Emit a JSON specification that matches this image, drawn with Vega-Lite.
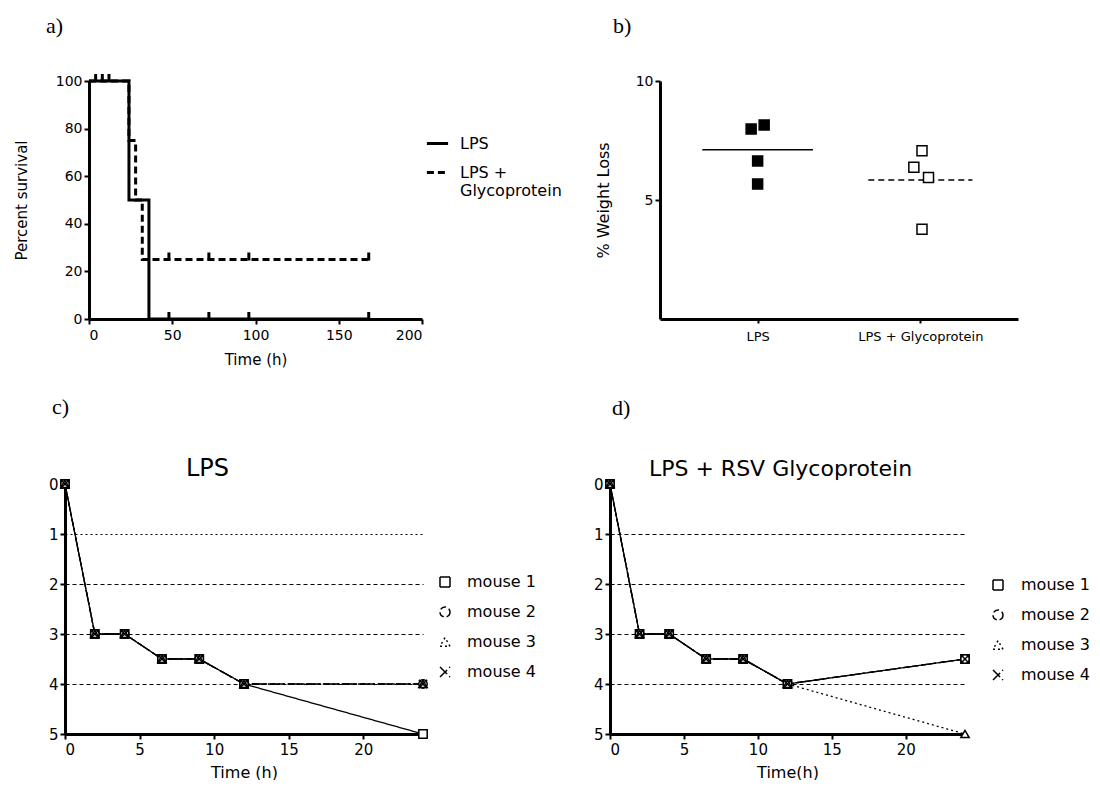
{
  "$schema": "https://vega.github.io/schema/vega-lite/v6.json",
  "padding": {"left": 9, "top": 15, "right": 0, "bottom": 0},
  "background": "white",
  "datasets": {
    "survival": [
      {"group": "LPS", "t": 0, "pct": 100},
      {"group": "LPS", "t": 24, "pct": 50},
      {"group": "LPS", "t": 36, "pct": 0},
      {"group": "LPS", "t": 168, "pct": 0},
      {"group": "LPS + Glycoprotein", "t": 0, "pct": 100},
      {"group": "LPS + Glycoprotein", "t": 24, "pct": 75},
      {"group": "LPS + Glycoprotein", "t": 28, "pct": 50},
      {"group": "LPS + Glycoprotein", "t": 32, "pct": 25},
      {"group": "LPS + Glycoprotein", "t": 168, "pct": 25}
    ],
    "censored": [
      {"group": "LPS", "t": 4, "pct": 100},
      {"group": "LPS", "t": 8, "pct": 100},
      {"group": "LPS", "t": 12, "pct": 100},
      {"group": "LPS", "t": 48, "pct": 0},
      {"group": "LPS", "t": 72, "pct": 0},
      {"group": "LPS", "t": 96, "pct": 0},
      {"group": "LPS", "t": 168, "pct": 0},
      {"group": "LPS + Glycoprotein", "t": 48, "pct": 25},
      {"group": "LPS + Glycoprotein", "t": 72, "pct": 25},
      {"group": "LPS + Glycoprotein", "t": 96, "pct": 25},
      {"group": "LPS + Glycoprotein", "t": 168, "pct": 25}
    ],
    "weight": [
      {"group": "LPS", "xpos": 0.96, "loss": 7.98},
      {"group": "LPS", "xpos": 1.04, "loss": 8.15},
      {"group": "LPS", "xpos": 1.0, "loss": 6.64},
      {"group": "LPS", "xpos": 1.0, "loss": 5.67},
      {"group": "LPS + Glycoprotein", "xpos": 2.01, "loss": 7.07},
      {"group": "LPS + Glycoprotein", "xpos": 1.96, "loss": 6.38},
      {"group": "LPS + Glycoprotein", "xpos": 2.05, "loss": 5.95},
      {"group": "LPS + Glycoprotein", "xpos": 2.01, "loss": 3.77}
    ],
    "means": [
      {"group": "LPS", "from": 0.66, "to": 1.34, "mean": 7.11},
      {"group": "LPS + Glycoprotein", "from": 1.68, "to": 2.32, "mean": 5.84}
    ],
    "scoreC": [
      {"mouse": "mouse 1", "t": 0, "score": 0}, {"mouse": "mouse 1", "t": 2, "score": 3}, {"mouse": "mouse 1", "t": 4, "score": 3}, {"mouse": "mouse 1", "t": 6.5, "score": 3.5}, {"mouse": "mouse 1", "t": 9, "score": 3.5}, {"mouse": "mouse 1", "t": 12, "score": 4}, {"mouse": "mouse 1", "t": 24, "score": 5},
      {"mouse": "mouse 2", "t": 0, "score": 0}, {"mouse": "mouse 2", "t": 2, "score": 3}, {"mouse": "mouse 2", "t": 4, "score": 3}, {"mouse": "mouse 2", "t": 6.5, "score": 3.5}, {"mouse": "mouse 2", "t": 9, "score": 3.5}, {"mouse": "mouse 2", "t": 12, "score": 4}, {"mouse": "mouse 2", "t": 24, "score": 4},
      {"mouse": "mouse 3", "t": 0, "score": 0}, {"mouse": "mouse 3", "t": 2, "score": 3}, {"mouse": "mouse 3", "t": 4, "score": 3}, {"mouse": "mouse 3", "t": 6.5, "score": 3.5}, {"mouse": "mouse 3", "t": 9, "score": 3.5}, {"mouse": "mouse 3", "t": 12, "score": 4}, {"mouse": "mouse 3", "t": 24, "score": 4},
      {"mouse": "mouse 4", "t": 0, "score": 0}, {"mouse": "mouse 4", "t": 2, "score": 3}, {"mouse": "mouse 4", "t": 4, "score": 3}, {"mouse": "mouse 4", "t": 6.5, "score": 3.5}, {"mouse": "mouse 4", "t": 9, "score": 3.5}, {"mouse": "mouse 4", "t": 12, "score": 4}, {"mouse": "mouse 4", "t": 24, "score": 4}
    ],
    "scoreD": [
      {"mouse": "mouse 1", "t": 0, "score": 0}, {"mouse": "mouse 1", "t": 2, "score": 3}, {"mouse": "mouse 1", "t": 4, "score": 3}, {"mouse": "mouse 1", "t": 6.5, "score": 3.5}, {"mouse": "mouse 1", "t": 9, "score": 3.5}, {"mouse": "mouse 1", "t": 12, "score": 4}, {"mouse": "mouse 1", "t": 24, "score": 3.5},
      {"mouse": "mouse 2", "t": 0, "score": 0}, {"mouse": "mouse 2", "t": 2, "score": 3}, {"mouse": "mouse 2", "t": 4, "score": 3}, {"mouse": "mouse 2", "t": 6.5, "score": 3.5}, {"mouse": "mouse 2", "t": 9, "score": 3.5}, {"mouse": "mouse 2", "t": 12, "score": 4}, {"mouse": "mouse 2", "t": 24, "score": 3.5},
      {"mouse": "mouse 3", "t": 0, "score": 0}, {"mouse": "mouse 3", "t": 2, "score": 3}, {"mouse": "mouse 3", "t": 4, "score": 3}, {"mouse": "mouse 3", "t": 6.5, "score": 3.5}, {"mouse": "mouse 3", "t": 9, "score": 3.5}, {"mouse": "mouse 3", "t": 12, "score": 4}, {"mouse": "mouse 3", "t": 24, "score": 5},
      {"mouse": "mouse 4", "t": 0, "score": 0}, {"mouse": "mouse 4", "t": 2, "score": 3}, {"mouse": "mouse 4", "t": 4, "score": 3}, {"mouse": "mouse 4", "t": 6.5, "score": 3.5}, {"mouse": "mouse 4", "t": 9, "score": 3.5}, {"mouse": "mouse 4", "t": 12, "score": 4}, {"mouse": "mouse 4", "t": 24, "score": 3.5}
    ]
  },
  "bounds": "full",
  "spacing": 29,
  "resolve": {"scale": {"strokeDash": "independent", "shape": "independent", "fill": "independent"}, "legend": {"strokeDash": "independent", "shape": "independent"}},
  "vconcat": [
    {
      "bounds": "flush",
      "spacing": 0,
      "resolve": {"scale": {"strokeDash": "independent", "shape": "independent", "fill": "independent"}, "legend": {"strokeDash": "independent", "shape": "independent"}},
      "hconcat": [
        {"width": 80, "height": 238, "data": {"values": []}, "mark": "point"},
        {
          "width": 333,
          "height": 238,
          "title": {"text": "a)", "dx": -43, "offset": 36},
          "layer": [
            {
              "data": {"name": "survival"},
              "mark": {"type": "line", "interpolate": "step-after", "strokeWidth": 3, "color": "black"},
              "encoding": {
                "x": {"field": "t", "type": "quantitative", "scale": {"domain": [0, 200]}, "axis": {"values": [0, 50, 100, 150, 200], "title": "Time (h)", "titleFontSize": 15, "labelPadding": 4, "titlePadding": 10}},
                "y": {"field": "pct", "type": "quantitative", "scale": {"domain": [0, 100]}, "axis": {"values": [0, 20, 40, 60, 80, 100], "title": "Percent survival", "titleFontSize": 15, "titlePadding": 26}},
                "strokeDash": {
                  "field": "group", "type": "nominal",
                  "scale": {"domain": ["LPS", "LPS + Glycoprotein"], "range": [[1, 0], [7, 4]]},
                  "legend": {
                    "title": null, "orient": "none", "legendX": 336, "legendY": 50,
                    "symbolType": "stroke", "symbolSize": 450, "symbolStrokeWidth": 3, "symbolStrokeColor": "black",
                    "labelFontSize": 16, "labelOffset": 10, "rowPadding": 8,
                    "labelExpr": "datum.label == 'LPS + Glycoprotein' ? ['LPS +', 'Glycoprotein'] : datum.label"
                  }
                }
              }
            },
            {
              "data": {"name": "censored"},
              "mark": {"type": "tick", "orient": "vertical", "size": 8, "thickness": 3, "color": "black", "opacity": 1, "yOffset": -3},
              "encoding": {
                "x": {"field": "t", "type": "quantitative"},
                "y": {"field": "pct", "type": "quantitative"}
              }
            }
          ]
        },
        {"width": 238, "height": 238, "data": {"values": []}, "mark": "point"},
        {
          "width": 358,
          "height": 238,
          "title": {"text": "b)", "dx": -47, "offset": 36},
          "layer": [
            {
              "data": {"name": "means"},
              "mark": {"type": "rule", "strokeWidth": 1.5, "color": "black"},
              "encoding": {
                "x": {"field": "from", "type": "quantitative", "scale": {"domain": [0.48, 2.5]}, "axis": {"values": [1, 2], "labelExpr": "datum.value == 1 ? 'LPS' : 'LPS + Glycoprotein'", "title": null, "labelFontSize": 13, "tickSize": 4, "labelPadding": 7}},
                "x2": {"field": "to"},
                "y": {"field": "mean", "type": "quantitative", "scale": {"domain": [0, 10]}, "axis": {"values": [5, 10], "title": "% Weight Loss", "titleFontSize": 16, "titlePadding": 24, "labelFontSize": 14}},
                "strokeDash": {"field": "group", "type": "nominal", "scale": {"domain": ["LPS", "LPS + Glycoprotein"], "range": [[1, 0], [6, 4]]}, "legend": null}
              }
            },
            {
              "data": {"name": "weight"},
              "mark": {"type": "point", "shape": "square", "size": 100, "filled": true, "stroke": "black", "strokeWidth": 1.5, "opacity": 1},
              "encoding": {
                "x": {"field": "xpos", "type": "quantitative"},
                "y": {"field": "loss", "type": "quantitative"},
                "fill": {"field": "group", "type": "nominal", "scale": {"domain": ["LPS", "LPS + Glycoprotein"], "range": ["black", "white"]}, "legend": null}
              }
            }
          ]
        }
      ]
    },
    {
      "bounds": "flush",
      "spacing": 0,
      "resolve": {"scale": {"strokeDash": "independent", "shape": "independent", "fill": "independent"}, "legend": {"strokeDash": "independent", "shape": "independent"}},
      "hconcat": [
        {"width": 56, "height": 250, "data": {"values": []}, "mark": "point"},
        {
          "width": 358,
          "height": 250,
          "title": {"text": "c)", "dx": -13, "offset": 37},
          "layer": [
            {
              "data": {"name": "scoreC"},
              "mark": {"type": "line", "strokeWidth": 1.3, "color": "black"},
              "encoding": {
                "x": {"field": "t", "type": "quantitative", "scale": {"domain": [0, 24]}, "axis": {"values": [0, 5, 10, 15, 20], "title": "Time (h)", "labelFontSize": 15, "titleFontSize": 16, "labelPadding": 3, "titlePadding": 7}},
                "y": {"field": "score", "type": "quantitative", "scale": {"domain": [0, 5], "reverse": true}, "axis": {"values": [0, 1, 2, 3, 4, 5], "title": null, "labelFontSize": 15, "grid": true, "gridColor": "black", "gridWidth": 1, "gridDash": {"condition": {"test": "datum.value == 1", "value": [2, 3]}, "value": [4, 3]}, "gridOpacity": {"condition": {"test": "datum.value == 0 || datum.value == 5", "value": 0}, "value": 1}}},
                "strokeDash": {
                  "field": "mouse", "type": "nominal",
                  "scale": {"domain": ["mouse 1", "mouse 2", "mouse 3", "mouse 4"], "range": [[1, 0], [6, 3], [2, 3], [10, 3, 2, 3]]},
                  "legend": {"title": null, "orient": "none", "legendX": 372, "legendY": 90, "labelFontSize": 16, "labelOffset": 14, "rowPadding": 14, "symbolSize": 100, "symbolStrokeColor": "black", "symbolFillColor": "white", "symbolStrokeWidth": 1.5}
                }
              }
            },
            {
              "data": {"name": "scoreC"},
              "mark": {"type": "point", "filled": true, "fill": "white", "stroke": "black", "strokeWidth": 1.5, "size": 70, "opacity": 1},
              "encoding": {
                "x": {"field": "t", "type": "quantitative", "axis": {"orient": "top", "domain": false, "ticks": false, "labels": false, "title": "LPS", "titleFontSize": 24, "titlePadding": 4, "titleX": 142}},
                "y": {"field": "score", "type": "quantitative"},
                "shape": {
                  "field": "mouse", "type": "nominal",
                  "scale": {"domain": ["mouse 1", "mouse 2", "mouse 3", "mouse 4"], "range": ["square", "circle", "triangle-up", "M-1,-1L1,1M-1,1L1,-1"]},
                  "legend": null
                }
              }
            }
          ],
          "resolve": {"axis": {"x": "independent"}}
        },
        {"width": 187, "height": 250, "data": {"values": []}, "mark": "point"},
        {
          "width": 355,
          "height": 250,
          "title": {"text": "d)", "dx": 2, "offset": 37},
          "layer": [
            {
              "data": {"name": "scoreD"},
              "mark": {"type": "line", "strokeWidth": 1.3, "color": "black"},
              "encoding": {
                "x": {"field": "t", "type": "quantitative", "scale": {"domain": [0, 24]}, "axis": {"values": [0, 5, 10, 15, 20], "title": "Time(h)", "labelFontSize": 15, "titleFontSize": 16, "labelPadding": 3, "titlePadding": 7}},
                "y": {"field": "score", "type": "quantitative", "scale": {"domain": [0, 5], "reverse": true}, "axis": {"values": [0, 1, 2, 3, 4, 5], "title": null, "labelFontSize": 15, "grid": true, "gridColor": "black", "gridWidth": 1, "gridDash": [4, 3], "gridOpacity": {"condition": {"test": "datum.value == 0 || datum.value == 5", "value": 0}, "value": 1}}},
                "strokeDash": {
                  "field": "mouse", "type": "nominal",
                  "scale": {"domain": ["mouse 1", "mouse 2", "mouse 3", "mouse 4"], "range": [[1, 0], [6, 3], [2, 3], [10, 3, 2, 3]]},
                  "legend": {"title": null, "orient": "none", "legendX": 380, "legendY": 93, "labelFontSize": 16, "labelOffset": 15, "rowPadding": 14, "symbolSize": 100, "symbolStrokeColor": "black", "symbolFillColor": "white", "symbolStrokeWidth": 1.5}
                }
              }
            },
            {
              "data": {"name": "scoreD"},
              "mark": {"type": "point", "filled": true, "fill": "white", "stroke": "black", "strokeWidth": 1.5, "size": 70, "opacity": 1},
              "encoding": {
                "x": {"field": "t", "type": "quantitative", "axis": {"orient": "top", "domain": false, "ticks": false, "labels": false, "title": "LPS + RSV Glycoprotein", "titleFontSize": 22, "titlePadding": 4, "titleX": 170}},
                "y": {"field": "score", "type": "quantitative"},
                "shape": {
                  "field": "mouse", "type": "nominal",
                  "scale": {"domain": ["mouse 1", "mouse 2", "mouse 3", "mouse 4"], "range": ["square", "circle", "triangle-up", "M-1,-1L1,1M-1,1L1,-1"]},
                  "legend": null
                }
              }
            }
          ],
          "resolve": {"axis": {"x": "independent"}}
        }
      ]
    }
  ],
  "config": {
    "font": "DejaVu Sans",
    "view": {"stroke": null},
    "axis": {
      "domainColor": "black", "domainWidth": 3, "tickColor": "black", "tickWidth": 2, "tickSize": 5,
      "labelColor": "black", "titleColor": "black", "titleFontWeight": "normal", "labelFontSize": 14,
      "titleFontSize": 16, "grid": false, "labelPadding": 2
    },
    "legend": {"labelColor": "black", "labelFontSize": 16},
    "title": {"font": "Liberation Serif", "fontSize": 22, "fontWeight": "normal", "color": "black", "anchor": "start", "frame": "group"}
  }
}
